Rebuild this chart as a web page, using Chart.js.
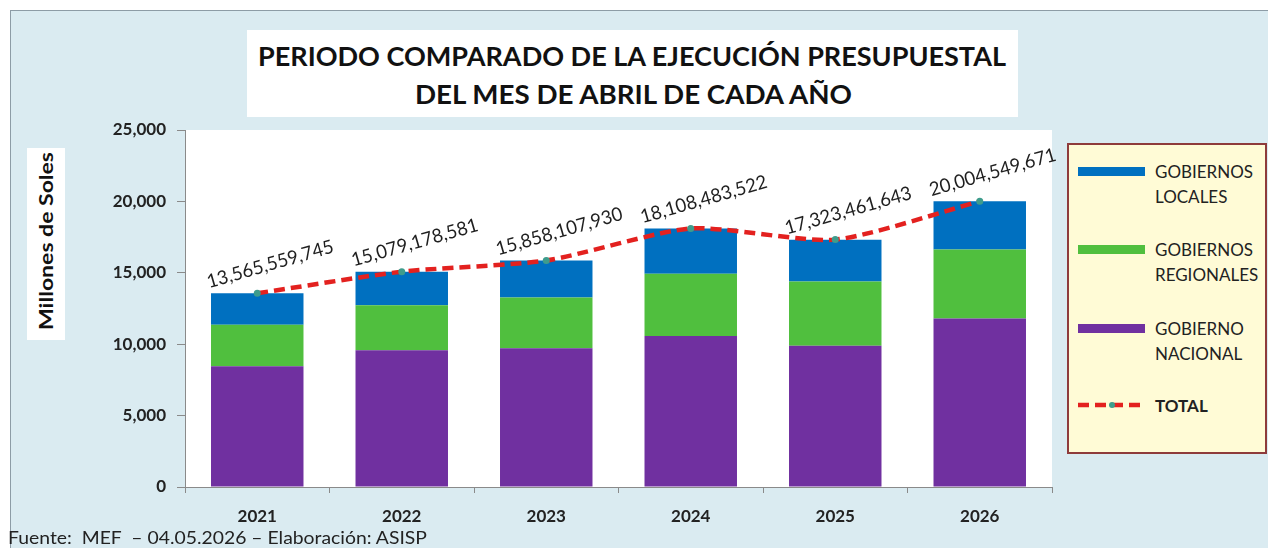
<!DOCTYPE html>
<html>
<head>
<meta charset="utf-8">
<script src="https://cdn.jsdelivr.net/npm/chart.js@4.4.1/dist/chart.umd.min.js"></script>
<style>
html,body{margin:0;padding:0;width:1268px;height:548px;overflow:hidden;background:#ffffff;}
#frame{position:absolute;left:10px;top:10px;width:1270px;height:560px;background:#DAEBF1;border:1px solid #8D9CA6;box-sizing:border-box;}
#chartCanvas{position:absolute;left:0;top:0;}
#titleBox{position:absolute;left:247px;top:30px;width:771px;height:87px;background:#ffffff;}
.fit{position:absolute;white-space:pre;transform-origin:0 50%;line-height:1;}
.title{font-family:Lato,"Open Sans",sans-serif;font-weight:bold;font-size:26px;color:#111111;}
#yTitleBox{position:absolute;left:27px;top:148px;width:38px;height:192px;background:#ffffff;}
#yTitleAnchor{position:absolute;left:46px;top:241px;width:0;height:0;}
#yTitle{position:absolute;left:0;top:0;white-space:nowrap;font-family:Lato,sans-serif;font-weight:bold;font-size:18px;color:#111111;line-height:1;}
#legendBox{position:absolute;left:1067px;top:143px;width:200px;height:311px;background:#FFFBD6;border:2px solid #8E3B3B;box-sizing:border-box;}
.legText{position:absolute;left:1155px;font-family:Lato,sans-serif;font-size:17px;color:#222222;line-height:25px;white-space:nowrap;}
.legSwatch{position:absolute;left:1078px;width:67px;height:9px;}
#footer{font-family:Lato,sans-serif;font-size:17px;color:#222222;}
</style>
</head>
<body>
<div id="frame"></div>
<div id="titleBox"></div>
<div class="fit title" id="t1" style="left:258px;top:43px;"></div>
<div class="fit title" id="t2" style="left:415px;top:81px;"></div>
<div id="yTitleBox"></div>
<div id="yTitleAnchor"><span id="yTitle"></span></div>
<canvas id="chartCanvas" width="1268" height="548"></canvas>
<div id="legendBox"></div>
<div id="legendItems"></div>
<div class="fit" id="footer" style="left:8px;top:529px;"></div>
<script>
// ---------------- DATA ----------------
const years = ['2021', '2022', '2023', '2024', '2025', '2026'];
const gobiernoNacional = [8450, 9580, 9720, 10570, 9900, 11800];      // millones de soles
const gobiernosRegionales = [2920, 3150, 3550, 4370, 4490, 4840];
const gobiernosLocales = [2196, 2349, 2588, 3168, 2933, 3365];
const totalMillones = [13565.56, 15079.18, 15858.11, 18108.48, 17323.46, 20004.55];
const totalLabels = ['13,565,559,745', '15,079,178,581', '15,858,107,930', '18,108,483,522', '17,323,461,643', '20,004,549,671'];
const yTicks = [0, 5000, 10000, 15000, 20000, 25000];

const titleLines = ['PERIODO COMPARADO DE LA EJECUCIÓN PRESUPUESTAL', 'DEL MES DE ABRIL DE CADA AÑO'];
const yAxisTitle = 'Millones de Soles';
const footerText = 'Fuente:  MEF  – 04.05.2026 – Elaboración: ASISP';

// ---------------- STYLE ----------------
const COLORS = {nacional:'#7030A0', regional:'#50BF3E', locales:'#0070C0', total:'#E3211F', dot:'#3E9C8C'};
const FONT = 'Lato, "Open Sans", sans-serif';

function fitWidth(el, target){
  el.style.transform = 'none';
  const w = el.getBoundingClientRect().width;
  el.style.transform = 'scaleX(' + (target / w) + ')';
}

document.getElementById('t1').textContent = titleLines[0];
document.getElementById('t2').textContent = titleLines[1];
document.getElementById('footer').textContent = footerText;
const yT = document.getElementById('yTitle');
yT.textContent = yAxisTitle;

const whiteArea = {
  id:'whiteArea',
  beforeDraw(chart){
    const {ctx, chartArea:a} = chart;
    ctx.save();
    ctx.fillStyle = '#ffffff';
    ctx.fillRect(a.left, a.top, a.right - a.left, a.bottom - a.top);
    ctx.restore();
  }
};

const totalLabelPlugin = {
  id:'totalLabels',
  afterDatasetsDraw(chart){
    const idx = chart.data.datasets.findIndex(d => d.type === 'line');
    const meta = chart.getDatasetMeta(idx);
    const ctx = chart.ctx;
    ctx.save();
    ctx.font = '19px ' + FONT;
    ctx.fillStyle = '#1f1f1f';
    ctx.textAlign = 'center';
    ctx.textBaseline = 'middle';
    meta.data.forEach((pt, i) => {
      const txt = totalLabels[i];
      const w = ctx.measureText(txt).width;
      ctx.save();
      ctx.translate(pt.x + 13, pt.y - 29);
      ctx.rotate(-16 * Math.PI / 180);
      ctx.scale(131 / w, 1);
      ctx.fillText(txt, 0, 0);
      ctx.restore();
    });
    ctx.restore();
  }
};

const chart = new Chart(document.getElementById('chartCanvas'), {
  data:{
    labels: years,
    datasets:[
      {type:'bar', label:'GOBIERNO NACIONAL', data:gobiernoNacional, backgroundColor:COLORS.nacional, order:1, stack:'gob'},
      {type:'bar', label:'GOBIERNOS REGIONALES', data:gobiernosRegionales, backgroundColor:COLORS.regional, order:1, stack:'gob'},
      {type:'bar', label:'GOBIERNOS LOCALES', data:gobiernosLocales, backgroundColor:COLORS.locales, order:1, stack:'gob'},
      {type:'line', label:'TOTAL', data:totalMillones, borderColor:COLORS.total, borderWidth:4.5,
       borderDash:[11,6], tension:0.22, pointRadius:3.5, pointBackgroundColor:COLORS.dot, pointBorderWidth:0,
       fill:false, order:0, stack:'total'}
    ]
  },
  options:{
    responsive:false,
    animation:false,
    devicePixelRatio:1,
    layout:{padding:{left:0, top:130, right:216, bottom:0}},
    categoryPercentage:1,
    barPercentage:0.64,
    plugins:{legend:{display:false}, tooltip:{enabled:false}, title:{display:false}},
    scales:{
      x:{
        stacked:true,
        grid:{display:true, drawOnChartArea:false, drawTicks:true, tickLength:6, color:'#8A8A8A', offset:true},
        border:{display:true, color:'#8A8A8A', width:1},
        ticks:{font:{family:FONT, size:17, weight:'bold'}, color:'#222222', padding:13, maxRotation:0},
        afterFit(s){ s.height = 61; }
      },
      y:{
        stacked:true,
        min:0, max:25000,
        afterBuildTicks(s){ s.ticks = yTicks.map(v => ({value:v})); },
        grid:{display:true, drawOnChartArea:false, drawTicks:true, tickLength:8, color:'#8A8A8A'},
        border:{display:true, color:'#8A8A8A', width:1},
        ticks:{font:{family:FONT, size:17, weight:'bold'}, color:'#222222', padding:11,
               callback:(v) => Number(v).toLocaleString('en-US')},
        afterFit(s){ s.width = 185; }
      }
    }
  },
  plugins:[whiteArea, totalLabelPlugin]
});

// ---------------- LEGEND (built from datasets) ----------------
const legendHost = document.getElementById('legendItems');
const legendOrder = [2, 1, 0, 3];
const legendCenters = [171, 249, 328, 405];
legendOrder.forEach((di, k) => {
  const ds = chart.data.datasets[di];
  const cy = legendCenters[k];
  if (ds.type === 'line') {
    const svg = document.createElementNS('http://www.w3.org/2000/svg', 'svg');
    svg.setAttribute('width', '70'); svg.setAttribute('height', '12');
    svg.style.position = 'absolute'; svg.style.left = '1077px'; svg.style.top = (cy - 6) + 'px';
    svg.innerHTML = '<line x1="1" y1="6" x2="68" y2="6" stroke="' + COLORS.total + '" stroke-width="4.5" stroke-dasharray="11 6"/>' +
                    '<circle cx="35" cy="6" r="3" fill="' + COLORS.dot + '"/>';
    legendHost.appendChild(svg);
    const t = document.createElement('div');
    t.className = 'legText';
    t.style.top = (cy - 12.5) + 'px';
    t.style.fontWeight = 'bold';
    t.textContent = ds.label;
    legendHost.appendChild(t);
  } else {
    const sw = document.createElement('div');
    sw.className = 'legSwatch';
    sw.style.top = (cy - 4.5) + 'px';
    sw.style.background = ds.backgroundColor;
    legendHost.appendChild(sw);
    const t = document.createElement('div');
    t.className = 'legText';
    t.style.top = (cy - 12.5) + 'px';
    t.innerHTML = ds.label.split(' ').join('<br>');
    legendHost.appendChild(t);
  }
});

// ---------------- FIT TEXT WIDTHS ----------------
fitWidth(document.getElementById('t1'), 748);
fitWidth(document.getElementById('t2'), 437);
fitWidth(document.getElementById('footer'), 419);
const yw = yT.getBoundingClientRect().width, yh = yT.getBoundingClientRect().height;
yT.style.left = (-yw / 2) + 'px';
yT.style.top = (-yh / 2) + 'px';
yT.style.transform = 'rotate(-90deg) scaleX(' + (178 / yw) + ')';
</script>
</body>
</html>
